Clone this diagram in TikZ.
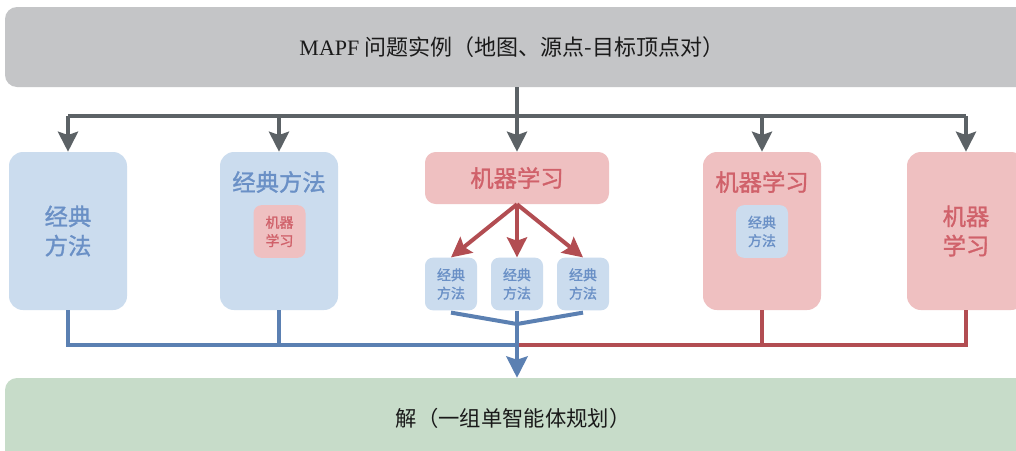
\documentclass[tikz,border=0pt]{standalone}
\usepackage{fontspec}
\setmainfont{Liberation Serif}
\newfontfamily\cjk{Noto Sans CJK SC}
\newfontfamily\cjkm[FakeBold=1.3]{Noto Sans CJK SC}
\usetikzlibrary{arrows.meta}
\definecolor{gbox}{HTML}{C4C5C7}
\definecolor{gline}{HTML}{5C6266}
\definecolor{bfill}{HTML}{CBDCEE}
\definecolor{btext}{HTML}{6A90C6}
\definecolor{bline}{HTML}{5B80B2}
\definecolor{rfill}{HTML}{EFC0C1}
\definecolor{rtext}{HTML}{D0616A}
\definecolor{rline}{HTML}{B24D52}
\definecolor{gnfill}{HTML}{C7DCC9}
\definecolor{dtext}{HTML}{1A1A1A}
\tikzset{
  bigbox/.style={rounded corners=10.5pt, minimum width=88.5pt, minimum height=118.5pt, inner sep=0pt, align=center},
  bluebig/.style={bigbox, fill=bfill},
  redbig/.style={bigbox, fill=rfill},
  bigfont/.style={font=\cjkm\fontsize{17.5}{22}\selectfont},
  smallfont/.style={font=\cjkm\fontsize{10.5}{13.8}\selectfont},
  smallbox/.style={rounded corners=6pt, minimum width=39pt, minimum height=39.5pt, inner sep=0pt, align=center, smallfont},
  bluesmall/.style={smallbox, fill=bfill, text=btext},
  redsmall/.style={smallbox, fill=rfill, text=rtext},
  widebox/.style={rounded corners=9pt, minimum width=772.5pt, inner sep=0pt},
  bluetxt/.style={text=btext, bigfont, align=center, inner sep=0pt},
  redtxt/.style={text=rtext, bigfont, align=center, inner sep=0pt},
  blacktxt/.style={text=dtext, inner sep=0pt},
  glin/.style={draw=gline, line width=3pt},
  garr/.style={glin, -{Stealth[length=15pt,width=15pt,inset=2.5pt]}},
  blin/.style={draw=bline, line width=3pt},
  barr/.style={blin, -{Stealth[length=16pt,width=16pt,inset=2.5pt]}},
  rlin/.style={draw=rline, line width=3pt},
  rarr/.style={rlin, -{Stealth[length=15pt,width=15pt,inset=2.5pt]}},
}
\begin{document}
\begin{tikzpicture}[x=0.75pt,y=-0.75pt]
\useasboundingbox (0,0) rectangle (1016,450);
\fill[white] (0,0) rectangle (1016,450);
\clip (0,0) rectangle (1016,450);

% top and bottom boxes
\node[widebox, fill=gbox, minimum height=60pt] (top) at (520,47) {};
\node[blacktxt] (toplbl) at (512,47) {\fontsize{16.5}{20}\selectfont MAPF {\cjk 问题实例（地图、源点-目标顶点对）}};
\node[widebox, fill=gnfill, minimum height=69pt] (bot) at (520,424) {};
\node[blacktxt] (botlbl) at (513,418) {\cjk\fontsize{16}{20}\selectfont 解（一组单智能体规划）};

% five branches
\node[bluebig, bluetxt] (b1) at (68,231) {经典\\方法};
\node[bluebig] (b2) at (279,231) {};
\node[bluetxt] (b2t) at (279,182) {经典方法};
\node[redsmall] (b2i) at (279.5,231.5) {机器\\学习};

\node[rounded corners=8pt, fill=rfill, minimum width=138pt, minimum height=39pt, inner sep=0pt, redtxt] (b3) at (517,178) {机器学习};
\node[bluesmall] (s1) at (451,284) {经典\\方法};
\node[bluesmall] (s2) at (517,284) {经典\\方法};
\node[bluesmall] (s3) at (583,284) {经典\\方法};

\node[redbig] (b4) at (762,231) {};
\node[redtxt] (b4t) at (762,182) {机器学习};
\node[bluesmall] (b4i) at (762,231.5) {经典\\方法};

\node[redbig, redtxt] (b5) at (966,231) {机器\\学习};

% gray distribution
\coordinate (hub) at (517,116);
\draw[glin] (top.south -| hub) -- (hub);
\draw[glin, line cap=butt] (hub -| b1.north) -- (hub -| b5.north);
\foreach \n in {b1,b2,b3,b4,b5}{
  \draw[garr] (hub -| \n.north) -- (\n.north);
}

% red arrows inside ML box
\draw[rarr] (b3.south) -- (s1.north);
\draw[rarr] (b3.south) -- (s2.north);
\draw[rarr] (b3.south) -- (s3.north);

% collecting lines
\coordinate (jn) at (517,345);
\draw[rlin] (b5.south) |- ([xshift=1.5pt]jn);
\draw[rlin] (b4.south) -- (b4.south |- jn);
\draw[blin] (b1.south) |- (jn);
\draw[blin] (b2.south) -- (b2.south |- jn);
\coordinate (mg) at (517,324);
\draw[blin] ([yshift=-1.5pt]s1.south) -- (mg) -- ([yshift=-1.5pt]s3.south);
\draw[barr] (s2.south) -- (s2.south |- bot.north);
\end{tikzpicture}
\end{document}
